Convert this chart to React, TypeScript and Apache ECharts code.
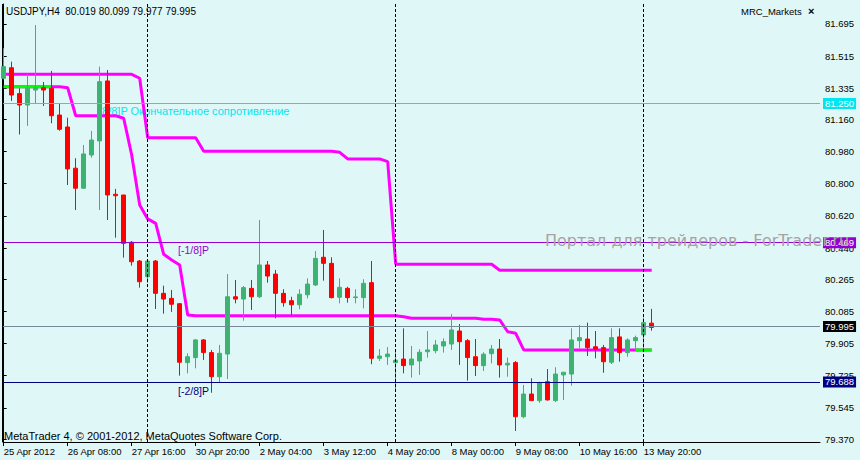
import React, { useEffect, useRef } from "react";
import * as echarts from "echarts";

// ---- data ----
const symbol = "USDJPY,H4";
const tickBars = [0, 8, 16, 24, 32, 40, 48, 56, 64, 72, 80];
const tickLabels = [
  "25 Apr 2012", "26 Apr 08:00", "27 Apr 16:00", "30 Apr 20:00", "2 May 04:00",
  "3 May 12:00", "4 May 20:00", "8 May 00:00", "9 May 08:00", "10 May 16:00", "13 May 20:00",
];
const priceTicks = [81.695, 81.515, 81.335, 81.16, 80.98, 80.8, 80.62, 80.44, 80.265, 80.085, 79.905, 79.725, 79.545, 79.37];

const opens = [
  81.391, 81.450, 81.305, 81.241, 81.325, 81.338, 81.335, 81.185, 81.118, 80.887,
  80.775, 80.961, 81.040, 81.376, 80.741, 80.737, 80.472, 80.367, 80.279, 80.367,
  80.186, 80.158, 80.128, 79.798, 79.826, 79.925, 79.854, 79.719, 79.846, 80.167,
  80.154, 80.214, 80.167, 80.345, 80.294, 80.186, 80.145, 80.122, 80.178, 80.233,
  80.388, 80.354, 80.164, 80.214, 80.162, 80.162, 80.246, 79.822, 79.831, 79.798,
  79.818, 79.785, 79.807, 79.859, 79.865, 79.891, 79.902, 79.975, 79.921, 79.831,
  79.781, 79.848, 79.874, 79.785, 79.798, 79.495, 79.622, 79.585, 79.691, 79.585,
  79.729, 79.734, 79.921, 79.930, 79.887, 79.882, 79.800, 79.942, 79.854, 79.921,
  79.953, 80.019,
];
const closes = [
  81.456, 81.297, 81.241, 81.335, 81.338, 81.325, 81.181, 81.105, 80.883, 80.775,
  80.967, 81.045, 81.372, 80.737, 80.733, 80.466, 80.363, 80.251, 80.367, 80.186,
  80.154, 80.125, 79.800, 79.831, 79.925, 79.854, 79.719, 79.850, 80.167, 80.154,
  80.218, 80.167, 80.345, 80.283, 80.186, 80.134, 80.122, 80.181, 80.238, 80.382,
  80.354, 80.162, 80.220, 80.162, 80.166, 80.242, 79.822, 79.835, 79.846, 79.811,
  79.781, 79.818, 79.856, 79.869, 79.897, 79.915, 79.981, 79.915, 79.826, 79.781,
  79.845, 79.874, 79.785, 79.794, 79.495, 79.622, 79.585, 79.685, 79.589, 79.734,
  79.744, 79.925, 79.938, 79.882, 79.874, 79.803, 79.938, 79.854, 79.925, 79.938,
  80.022, 79.995,
];
const lows = [
  81.385, 81.264, 81.076, 81.124, 81.247, 81.236, 81.139, 81.097, 80.793, 80.653,
  80.771, 80.946, 80.653, 80.597, 80.498, 80.386, 80.341, 80.218, 80.244, 80.098,
  80.072, 80.082, 79.725, 79.738, 79.766, 79.813, 79.629, 79.685, 79.706, 80.130,
  80.033, 80.093, 80.160, 80.246, 80.046, 80.111, 80.065, 80.097, 80.158, 80.227,
  80.257, 80.158, 80.130, 80.134, 80.130, 80.102, 79.789, 79.807, 79.785, 79.639,
  79.738, 79.714, 79.729, 79.826, 79.850, 79.854, 79.869, 79.785, 79.697, 79.723,
  79.751, 79.794, 79.714, 79.719, 79.415, 79.486, 79.585, 79.573, 79.585, 79.577,
  79.589, 79.669, 79.878, 79.835, 79.822, 79.741, 79.790, 79.803, 79.831, 79.869,
  79.869, 79.977,
];
const highs = [
  81.559, 81.484, 81.335, 81.415, 81.689, 81.370, 81.432, 81.251, 81.170, 80.943,
  81.017, 81.096, 81.456, 81.437, 80.771, 80.737, 80.479, 80.373, 80.373, 80.373,
  80.229, 80.205, 80.132, 79.850, 79.930, 79.930, 79.869, 79.897, 80.294, 80.261,
  80.227, 80.261, 80.597, 80.367, 80.317, 80.209, 80.167, 80.209, 80.270, 80.423,
  80.541, 80.388, 80.270, 80.223, 80.209, 80.265, 80.367, 79.874, 79.885, 79.869,
  79.990, 79.891, 79.873, 79.975, 79.925, 79.934, 80.070, 80.014, 79.930, 79.930,
  79.856, 79.897, 79.930, 79.826, 79.807, 79.673, 79.710, 79.691, 79.762, 79.772,
  79.745, 79.990, 80.009, 80.022, 79.975, 79.897, 79.990, 79.990, 79.934, 79.949,
  80.050, 80.099,
];

const upperLevel = [
  81.413, 81.413, 81.413, 81.413, 81.413, 81.413, 81.413, 81.413, 81.413, 81.413,
  81.413, 81.413, 81.413, 81.413, 81.413, 81.413, 81.413, 81.391, 81.058, 81.058,
  81.058, 81.058, 81.058, 81.058, 81.058, 80.982, 80.982, 80.982, 80.982, 80.982,
  80.982, 80.982, 80.982, 80.982, 80.982, 80.982, 80.982, 80.982, 80.982, 80.982,
  80.982, 80.982, 80.976, 80.939, 80.939, 80.939, 80.939, 80.939, 80.924, 80.349,
  80.349, 80.349, 80.349, 80.349, 80.349, 80.349, 80.349, 80.349, 80.349, 80.349,
  80.349, 80.349, 80.315, 80.315, 80.315, 80.315, 80.315, 80.315, 80.315, 80.315,
  80.315, 80.315, 80.315, 80.315, 80.315, 80.315, 80.315, 80.315, 80.315, 80.315,
  80.315, 80.315,
];
const lowerLevel = [
  81.344, 81.344, 81.344, 81.344, 81.344, 81.344, 81.344, 81.344, 81.338, 81.181,
  81.181, 81.181, 81.181, 81.181, 81.181, 81.167, 80.961, 80.681, 80.603, 80.578,
  80.405, 80.373, 80.345, 80.065, 80.061, 80.061, 80.061, 80.061, 80.061, 80.061,
  80.061, 80.061, 80.061, 80.061, 80.061, 80.061, 80.061, 80.061, 80.061, 80.061,
  80.061, 80.061, 80.061, 80.061, 80.061, 80.061, 80.061, 80.061, 80.061, 80.061,
  80.055, 80.046, 80.046, 80.046, 80.046, 80.046, 80.046, 80.046, 80.046, 80.046,
  80.041, 80.041, 80.037, 79.971, 79.962, 79.869, 79.869, 79.869, 79.869, 79.869,
  79.869, 79.869, 79.869, 79.869, 79.869, 79.869, 79.869, 79.869, 79.869, 79.869,
  79.869, 79.869,
];
const greenSegments = [[0, 6], [79, 81]];

const levelValues = [81.25, 80.469, 79.995, 79.688];
const levelNames = ["[8/8]P Окончательное сопротивление", "[-1/8]P", "", "[-2/8]P"];
const separatorBars = [18, 49, 80];

// ---- styles ----
const BG = "#E0F7F7";
const FONT = "'Liberation Sans', Arial, sans-serif";
const levelColors = ["#00E6F0", "#9400D3", "#778899", "#000080"];
const levelBoxColors = ["#00E6F0", "#9400D3", "#000000", "#000080"];

export default function App() {
  const ref = useRef<HTMLDivElement>(null);
  useEffect(() => {
    document.body.style.margin = "0";
    const chart = echarts.init(ref.current!, null, { renderer: "svg" });
    const n = opens.length;
    const candles = opens.map((o, i) => [i, o, closes[i], lows[i], highs[i]]);
    const last = n - 1;
    const header = `${symbol}  ${opens[last].toFixed(3)} ${highs[last].toFixed(3)} ${lows[last].toFixed(3)} ${closes[last].toFixed(3)}`;

    const greenSeries = greenSegments.map(([a, b]) => ({
      type: "line",
      data: lowerLevel.slice(a, b + 1).map((v, k) => [a + k, v]),
      showSymbol: false,
      symbol: "none",
      lineStyle: { color: "#00FF00", width: 3 },
      z: 2,
      silent: true,
    }));

    const option: any = {
      animation: false,
      backgroundColor: BG,
      grid: { left: 3, right: 40, top: 4, bottom: 18, show: false, outerBoundsMode: "none", containLabel: false },
      xAxis: {
        type: "value",
        min: -0.0875,
        max: 102.0375,
        axisLine: { show: true, lineStyle: { color: "#000", width: 1 } },
        axisTick: { show: true, customValues: tickBars, length: 4, lineStyle: { color: "#000" } },
        axisLabel: {
          customValues: tickBars,
          formatter: (v: number) => {
            const k = tickBars.indexOf(Math.round(v));
            return k >= 0 ? tickLabels[k] : "";
          },
          align: "left",
          margin: 4,
          color: "#000",
          fontSize: 9.5,
          fontFamily: FONT,
        },
        splitLine: { show: false },
      },
      yAxis: {
        type: "value",
        position: "right",
        min: 79.3532,
        max: 81.807,
        axisLine: { show: true, lineStyle: { color: "#000", width: 1 } },
        axisTick: { show: true, customValues: priceTicks, length: 3, lineStyle: { color: "#000" } },
        axisLabel: {
          customValues: priceTicks,
          formatter: (v: number) => v.toFixed(3),
          margin: 5,
          color: "#000",
          fontSize: 9.5,
          fontFamily: FONT,
        },
        splitLine: { show: false },
      },
      series: [
        {
          type: "line",
          data: [],
          z: 1,
          silent: true,
          markLine: {
            silent: true,
            symbol: ["none", "none"],
            animation: false,
            data: [
              ...levelValues.map((v, i) => ({
                yAxis: v,
                lineStyle: { color: levelColors[i], width: 1, type: "solid" },
                label: {
                  show: true,
                  position: "end",
                  distance: 3,
                  formatter: v.toFixed(3),
                  backgroundColor: levelBoxColors[i],
                  color: "#fff",
                  padding: [1, 2, 0, 2],
                  fontSize: 9.5,
                  fontFamily: FONT,
                },
              })),
              ...separatorBars.map((b) => ({
                xAxis: b,
                lineStyle: { color: "#000", width: 1, type: [3, 2] },
                label: { show: false },
              })),
            ],
          },
        },
        {
          type: "line",
          data: upperLevel.map((v, i) => [i, v]),
          showSymbol: false,
          symbol: "none",
          lineStyle: { color: "#FF00FF", width: 3 },
          z: 2,
          silent: true,
        },
        {
          type: "line",
          data: lowerLevel.map((v, i) => [i, v]),
          showSymbol: false,
          symbol: "none",
          lineStyle: { color: "#FF00FF", width: 3 },
          z: 2,
          silent: true,
        },
        ...greenSeries,
        {
          type: "candlestick",
          data: candles,
          barWidth: 4,
          z: 3,
          itemStyle: {
            color: "#3CB371",
            color0: "#FF0000",
            borderColor: "#3CB371",
            borderColor0: "#FF0000",
            borderWidth: 1,
          },
        },
      ],
      graphic: {
        elements: [
          { type: "text", x: 6, y: 11, z: 0, style: { text: header, fill: "#000", fontSize: 10, fontFamily: FONT, verticalAlign: "middle" } },
          { type: "text", x: 741, y: 11, z: 0, style: { text: "MRC_Markets", fill: "#000", fontSize: 9.5, fontFamily: FONT, verticalAlign: "middle" } },
          { type: "text", x: 808, y: 11, z: 0, style: { text: "×", fill: "#000", fontSize: 11, fontWeight: "bold", fontFamily: FONT, verticalAlign: "middle" } },
          { type: "text", x: 99, y: 111, z: 0, style: { text: levelNames[0], fill: levelColors[0], fontSize: 11, fontFamily: FONT, verticalAlign: "middle" } },
          { type: "text", x: 178, y: 250, z: 0, style: { text: levelNames[1], fill: levelColors[1], fontSize: 10.5, fontFamily: FONT, verticalAlign: "middle" } },
          { type: "text", x: 178, y: 390.5, z: 0, style: { text: levelNames[3], fill: levelColors[3], fontSize: 10.5, fontFamily: FONT, verticalAlign: "middle" } },
          { type: "text", x: 4, y: 436, z: 0, style: { text: "MetaTrader 4, © 2001-2012, MetaQuotes Software Corp.", fill: "#000", fontSize: 11, fontFamily: FONT, verticalAlign: "middle" } },
          { type: "text", x: 545, y: 240, z: 100, style: { text: "Портал для трейдеров - ForTrader.ru", fill: "#A8A2A2", fontSize: 16, fontFamily: "'DejaVu Sans', sans-serif", verticalAlign: "middle" } },
          { type: "line", z: 0, shape: { x1: 2.5, y1: 4, x2: 2.5, y2: 442 }, style: { stroke: "#000", lineWidth: 1 } },
        ],
      },
    };
    chart.setOption(option);
    return () => chart.dispose();
  }, []);
  return <div ref={ref} style={{ width: 860, height: 460, background: BG }} />;
}
